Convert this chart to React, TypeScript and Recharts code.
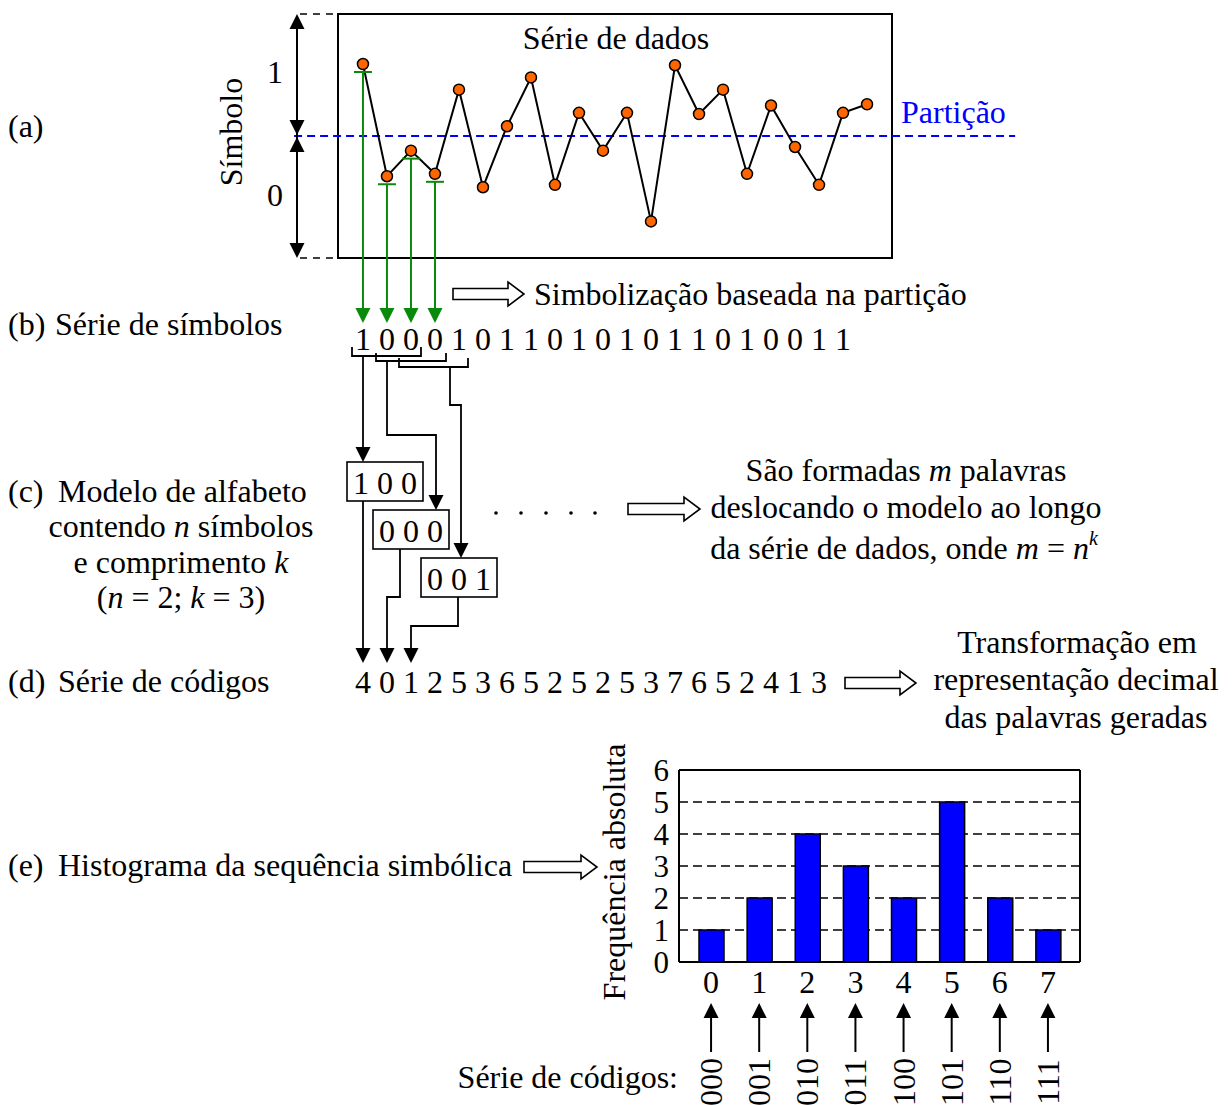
import React from "react";
import {
  LineChart,
  Line,
  XAxis,
  YAxis,
  ReferenceLine,
  ReferenceArea,
  BarChart,
  Bar,
  CartesianGrid,
} from "recharts";

const FONT = '"Liberation Serif", "Times New Roman", Times, serif';

// (a) série de dados, partição em 0
const SERIES_VALUES = [
  0.59, -0.33, -0.12, -0.31, 0.38, -0.42, 0.08, 0.48, -0.4, 0.19, -0.12,
  0.19, -0.7, 0.58, 0.18, 0.38, -0.31, 0.25, -0.09, -0.4, 0.19, 0.26,
];
const PARTITION = 0;
const X_DOMAIN: [number, number] = [-1.04, 22.04];
const Y_DOMAIN: [number, number] = [-1, 1];

// (b) série de símbolos
const SYMBOLS = [1, 0, 0, 0, 1, 0, 1, 1, 0, 1, 0, 1, 0, 1, 1, 0, 1, 0, 0, 1, 1];
// (c) palavras formadas pelo modelo
const WORDS = ["1 0 0", "0 0 0", "0 0 1"];
// (d) série de códigos
const CODES = [4, 0, 1, 2, 5, 3, 6, 5, 2, 5, 2, 5, 3, 7, 6, 5, 2, 4, 1, 3];

// (e) histograma
const HIST_CODES = [0, 1, 2, 3, 4, 5, 6, 7];
const HIST_FREQ = [1, 2, 4, 3, 2, 5, 2, 1];
const HIST_BINARY = ["000", "001", "010", "011", "100", "101", "110", "111"];
const FREQ_TICKS = [0, 1, 2, 3, 4, 5, 6];

const seriesData = SERIES_VALUES.map((v, i) => ({ i, v }));
const histData = HIST_CODES.map((code, i) => ({ code, freq: HIST_FREQ[i] }));

const GREEN = "#0a8a0a";
const SYMBOL_TIP_Y = 323;

function Head({ x, y, dir, fill = "#000" }: { x: number; y: number; dir: "up" | "down"; fill?: string }) {
  const s = dir === "down" ? -1 : 1;
  return (
    <polygon
      points={`${x - 7.5},${y + s * 15} ${x + 7.5},${y + s * 15} ${x},${y}`}
      fill={fill}
    />
  );
}

function HollowArrow({ x, y, len }: { x: number; y: number; len: number }) {
  const hx = x + len - 16;
  const pts = [
    [x, y - 5.5],
    [hx, y - 5.5],
    [hx, y - 12],
    [x + len, y],
    [hx, y + 12],
    [hx, y + 5.5],
    [x, y + 5.5],
  ]
    .map((p) => p.join(","))
    .join(" ");
  return <polygon points={pts} fill="#fff" stroke="#000" strokeWidth={1.6} />;
}

const renderDot = (props: any) => {
  const { cx, cy, index } = props;
  return (
    <g key={`dot-${index}`}>
      {index < 4 && (
        <g>
          <line x1={cx - 9} x2={cx + 9} y1={cy + 8} y2={cy + 8} stroke={GREEN} strokeWidth={2} />
          <line x1={cx} x2={cx} y1={cy + 8} y2={SYMBOL_TIP_Y - 10} stroke={GREEN} strokeWidth={2} />
          <Head x={cx} y={SYMBOL_TIP_Y} dir="down" fill={GREEN} />
        </g>
      )}
      <circle cx={cx} cy={cy} r={5.5} fill="#ff6600" stroke="#000" strokeWidth={1.5} />
    </g>
  );
};

const renderCodeTick = (props: any) => {
  const { x, y, index, payload } = props;
  return (
    <g key={`tick-${index}`}>
      <text x={x} y={y + 31} textAnchor="middle" fontSize={32} fontFamily={FONT} fill="#000">
        {payload.value}
      </text>
      <line x1={x} x2={x} y1={y + 90} y2={y + 52} stroke="#000" strokeWidth={2} />
      <Head x={x} y={y + 41} dir="up" />
      <text
        transform={`translate(${x + 11},${y + 120}) rotate(-90)`}
        textAnchor="middle"
        fontSize={32}
        fontFamily={FONT}
        fill="#000"
      >
        {HIST_BINARY[index]}
      </text>
    </g>
  );
};

function Annotations() {
  const brackets = [
    { l: 352, r: 421, t: 347, b: 356 },
    { l: 376, r: 446, t: 353, b: 361 },
    { l: 399, r: 468, t: 358, b: 367 },
  ];
  const boxes = [
    { x: 347, y: 462 },
    { x: 373, y: 510 },
    { x: 421, y: 558 },
  ];
  const wire = { fill: "none", stroke: "#000", strokeWidth: 1.8 };
  return (
    <svg
      width={1232}
      height={1105}
      style={{ position: "absolute", left: 0, top: 0, pointerEvents: "none" }}
      fontFamily={FONT}
      fontSize={32}
    >
      {/* eixo de símbolos */}
      <line x1={297} x2={297} y1={20} y2={252} stroke="#000" strokeWidth={2} />
      <Head x={297} y={14} dir="up" />
      <Head x={297} y={135} dir="down" />
      <Head x={297} y={137} dir="up" />
      <Head x={297} y={258} dir="down" />
      <line x1={300} x2={338} y1={14} y2={14} stroke="#000" strokeWidth={1.6} strokeDasharray="7 6" />
      <line x1={300} x2={338} y1={258} y2={258} stroke="#000" strokeWidth={1.6} strokeDasharray="7 6" />
      <text x={275} y={83} textAnchor="middle">1</text>
      <text x={275} y={206} textAnchor="middle">0</text>
      <text transform="translate(242,132) rotate(-90)" textAnchor="middle">Símbolo</text>
      <text x={616} y={49} textAnchor="middle">Série de dados</text>
      <text x={901} y={123} fill="#0000ff">Partição</text>
      <text x={8} y={137}>(a)</text>

      {/* (b) */}
      <text x={8} y={335}>(b)</text>
      <text x={55} y={335}>Série de símbolos</text>
      <HollowArrow x={453} y={294} len={71} />
      <text x={534} y={305}>Simbolização baseada na partição</text>
      <text x={355} y={350}>{SYMBOLS.join(" ")}</text>

      {brackets.map((b, i) => (
        <path key={i} d={`M${b.l} ${b.t} V${b.b} H${b.r} V${b.t}`} {...wire} />
      ))}
      <path d="M363 356 V448" {...wire} />
      <Head x={363} y={462} dir="down" />
      <path d="M387 361 V435 H436 V496" {...wire} />
      <Head x={436} y={510} dir="down" />
      <path d="M450 367 V405 H461 V544" {...wire} />
      <Head x={461} y={558} dir="down" />

      {/* (c) */}
      {boxes.map((b, i) => (
        <g key={i}>
          <rect x={b.x} y={b.y} width={76} height={39} fill="#fff" stroke="#000" strokeWidth={1.6} />
          <text x={b.x + 38} y={b.y + 32} textAnchor="middle">{WORDS[i]}</text>
        </g>
      ))}
      <path d="M363 501 V649" {...wire} />
      <path d="M400 549 V597 H387 V649" {...wire} />
      <path d="M458 597 V626 H411 V649" {...wire} />
      <Head x={363} y={663} dir="down" />
      <Head x={387} y={663} dir="down" />
      <Head x={411} y={663} dir="down" />

      <text x={8} y={502}>(c)</text>
      <text x={58} y={502}>Modelo de alfabeto</text>
      <text x={181} y={537} textAnchor="middle">
        contendo <tspan fontStyle="italic">n</tspan> símbolos
      </text>
      <text x={181} y={573} textAnchor="middle">
        e comprimento <tspan fontStyle="italic">k</tspan>
      </text>
      <text x={181} y={608} textAnchor="middle">
        (<tspan fontStyle="italic">n</tspan> = 2; <tspan fontStyle="italic">k</tspan> = 3)
      </text>

      {[496, 521, 546, 571, 595].map((x) => (
        <circle key={x} cx={x} cy={513} r={1.8} fill="#000" />
      ))}
      <HollowArrow x={628} y={509} len={72} />
      <text x={906} y={481} textAnchor="middle">
        São formadas <tspan fontStyle="italic">m</tspan> palavras
      </text>
      <text x={906} y={518} textAnchor="middle">deslocando o modelo ao longo</text>
      <text x={904} y={559} textAnchor="middle">
        da série de dados, onde <tspan fontStyle="italic">m</tspan> = <tspan fontStyle="italic">n</tspan>
        <tspan fontStyle="italic" fontSize={20} dy={-14}>k</tspan>
      </text>

      {/* (d) */}
      <text x={8} y={692}>(d)</text>
      <text x={58} y={692}>Série de códigos</text>
      <text x={355} y={693}>{CODES.join(" ")}</text>
      <HollowArrow x={845} y={683} len={71} />
      <text x={1077} y={653} textAnchor="middle">Transformação em</text>
      <text x={1076} y={690} textAnchor="middle">representação decimal</text>
      <text x={1076} y={728} textAnchor="middle">das palavras geradas</text>

      {/* (e) */}
      <text x={8} y={876}>(e)</text>
      <text x={58} y={876}>Histograma da sequência simbólica</text>
      <HollowArrow x={524} y={867} len={73} />
      <text transform="translate(625,872) rotate(-90)" textAnchor="middle">Frequência absoluta</text>
      <text x={678} y={1088} textAnchor="end">Série de códigos:</text>
    </svg>
  );
}

export default function App() {
  return (
    <div
      style={{
        position: "absolute",
        left: 0,
        top: 0,
        width: 1232,
        height: 1105,
        background: "#fff",
        overflow: "hidden",
      }}
    >
      <div style={{ position: "absolute", left: 0, top: 0 }}>
        <LineChart
          width={1232}
          height={340}
          data={seriesData}
          margin={{ top: 14, right: 340, bottom: 82, left: 338 }}
        >
          <XAxis dataKey="i" type="number" domain={X_DOMAIN} hide />
          <YAxis domain={Y_DOMAIN} hide />
          <ReferenceArea
            x1={X_DOMAIN[0]}
            x2={X_DOMAIN[1]}
            y1={Y_DOMAIN[0]}
            y2={Y_DOMAIN[1]}
            fill="none"
            stroke="#000"
            strokeWidth={2}
            ifOverflow="visible"
          />
          <ReferenceLine
            segment={[
              { x: -2.87, y: PARTITION },
              { x: 27.17, y: PARTITION },
            ]}
            stroke="#0000ff"
            strokeWidth={2}
            strokeDasharray="8 5"
            ifOverflow="visible"
          />
          <Line
            dataKey="v"
            stroke="#000"
            strokeWidth={2}
            dot={renderDot}
            activeDot={false}
            isAnimationActive={false}
          />
        </LineChart>
      </div>

      <div style={{ position: "absolute", left: 0, top: 740 }}>
        <BarChart
          width={1232}
          height={365}
          data={histData}
          margin={{ top: 29, right: 151, bottom: 0, left: 629 }}
        >
          <CartesianGrid vertical={false} stroke="#000" strokeWidth={1.5} strokeDasharray="9 5" />
          <XAxis
            dataKey="code"
            padding={{ left: 8, right: 8 }}
            height={143}
            interval={0}
            tickLine={false}
            tickSize={0}
            tickMargin={0}
            axisLine={{ stroke: "#000", strokeWidth: 2 }}
            tick={renderCodeTick}
          />
          <XAxis
            xAxisId="top"
            dataKey="code"
            orientation="top"
            height={1}
            tick={false}
            tickLine={false}
            axisLine={{ stroke: "#000", strokeWidth: 2 }}
          />
          <YAxis
            domain={[0, 6]}
            ticks={FREQ_TICKS}
            interval={0}
            width={50}
            tickLine={false}
            tickSize={0}
            tickMargin={10}
            axisLine={{ stroke: "#000", strokeWidth: 2 }}
            tick={{ fontSize: 31, fill: "#000", fontFamily: FONT }}
          />
          <YAxis
            yAxisId="r"
            orientation="right"
            domain={[0, 6]}
            width={1}
            tick={false}
            tickLine={false}
            axisLine={{ stroke: "#000", strokeWidth: 2 }}
          />
          <Bar
            dataKey="freq"
            fill="#0000ff"
            stroke="#000"
            strokeWidth={1.5}
            barSize={25}
            isAnimationActive={false}
          />
        </BarChart>
      </div>

      <Annotations />
    </div>
  );
}
